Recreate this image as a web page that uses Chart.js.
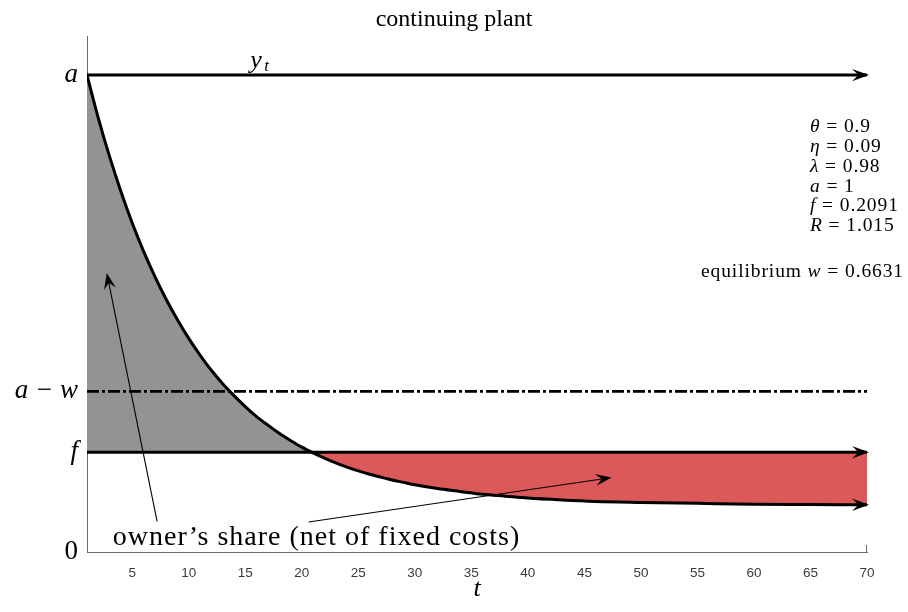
<!DOCTYPE html>
<html>
<head>
<meta charset="utf-8">
<script src="https://cdn.jsdelivr.net/npm/chart.js@4/dist/chart.umd.min.js"></script>
<style>
  html, body { margin: 0; padding: 0; background: #fff; }
</style>
</head>
<body>
<canvas id="plant" width="908" height="612"></canvas>
<script>
  // ====== Data ======
  const T_START = 1;
  const T_END = 70;
  const A = 1;
  const F = 0.2091;
  const A_MINUS_W = 0.3369;
  const Y_MAX = 1.082;

  // output per period y_t (flat at a), and the decaying revenue curve
  const yT = [A, A];
  const fLine = [F, F];
  const awLine = [A_MINUS_W, A_MINUS_W];
  const flatT = [T_START, T_END];

  const curveT = [1, 2, 3, 4, 5, 6, 7, 8, 9, 10, 11, 12, 13, 14, 15, 16, 17, 18, 19, 20,
                  21, 22, 23, 24, 25, 26, 27, 28, 29, 30, 32, 34, 36, 38, 40, 43, 46, 50,
                  55, 60, 65, 70];
  const curveY = [1.000, 0.910, 0.829, 0.756, 0.690, 0.631, 0.578, 0.530, 0.487, 0.448,
                  0.413, 0.381, 0.353, 0.328, 0.305, 0.284, 0.266, 0.249, 0.234, 0.220,
                  0.208, 0.197, 0.187, 0.178, 0.170, 0.163, 0.157, 0.151, 0.146, 0.141,
                  0.133, 0.127, 0.121, 0.117, 0.113, 0.109, 0.106, 0.104,
                  0.102, 0.100, 0.0995, 0.099];

  const xTicks = [5, 10, 15, 20, 25, 30, 35, 40, 45, 50, 55, 60, 65, 70];
  const yTickValues = [0, F, A_MINUS_W, A];
  const yTickLabels = ["0", "f", "a \u2212 w", "a"];

  const paramSymbols = ["\u03b8", "\u03b7", "\u03bb", "a", "f", "R"];
  const paramValues = ["0.9", "0.09", "0.98", "1", "0.2091", "1.015"];
  const eqWord = "equilibrium";
  const eqSymbol = "w";
  const eqValue = "0.6631";

  const titleText = "continuing plant";
  const noteText = "owner\u2019s share (net of fixed costs)";

  // ====== Styles ======
  const GREY_FILL = "rgb(145, 148, 145)";
  const RED_FILL = "rgb(220, 89, 89)";
  const AXIS_GREY = "#6a6a6a";
  const SERIF = '"Liberation Serif", "Times New Roman", serif';

  const pts = (xs, ys) => xs.map((x, i) => ({ x, y: ys[i] }));

  function arrowHead(ctx, x, y, ang, len, half) {
    ctx.save();
    ctx.translate(x, y);
    ctx.rotate(ang);
    ctx.beginPath();
    ctx.moveTo(0, 0);
    ctx.lineTo(-len, -half);
    ctx.lineTo(-len * 0.62, 0);
    ctx.lineTo(-len, half);
    ctx.closePath();
    ctx.fillStyle = "#000";
    ctx.fill();
    ctx.restore();
  }

  // annotation arrows, in data units: [tailT, tailY, tipT, tipY]
  const noteArrows = [
    [7.2, 0.064, 2.75, 0.585],
    [20.6, 0.063, 47.4, 0.156]
  ];

  const decorPlugin = {
    id: "decor",
    afterDatasetsDraw(chart) {
      const { ctx, chartArea } = chart;
      const xs = chart.scales.x;
      const ys = chart.scales.y;
      const px = (t) => xs.getPixelForValue(t);
      const py = (v) => ys.getPixelForValue(v);

      // arrow heads at the end of the flagged lines
      chart.data.datasets.forEach((ds, i) => {
        if (!ds.arrowEnd) return;
        const meta = chart.getDatasetMeta(i);
        const n = meta.data.length;
        const last = meta.data[n - 1];
        const prev = meta.data[n - 2];
        const ang = Math.atan2(last.y - prev.y, last.x - prev.x);
        arrowHead(ctx, last.x + 2, last.y, ang, 17, 6.2);
      });

      // annotation arrows
      ctx.save();
      ctx.strokeStyle = "#000";
      ctx.lineWidth = 1.1;
      noteArrows.forEach(([t0, v0, t1, v1]) => {
        const x0 = px(t0), y0 = py(v0), x1 = px(t1), y1 = py(v1);
        const ang = Math.atan2(y1 - y0, x1 - x0);
        ctx.beginPath();
        ctx.moveTo(x0, y0);
        ctx.lineTo(x1 - 8 * Math.cos(ang), y1 - 8 * Math.sin(ang));
        ctx.stroke();
        arrowHead(ctx, x1, y1, ang, 16, 6);
      });
      ctx.restore();

      // small end tick on the x axis
      ctx.save();
      ctx.strokeStyle = AXIS_GREY;
      ctx.lineWidth = 1;
      ctx.beginPath();
      ctx.moveTo(chartArea.right - 0.5, chartArea.bottom);
      ctx.lineTo(chartArea.right - 0.5, chartArea.bottom - 7);
      ctx.stroke();
      ctx.restore();

      ctx.save();
      ctx.fillStyle = "#000";
      ctx.textBaseline = "alphabetic";

      // y_t label
      ctx.font = "italic 26px " + SERIF;
      ctx.textAlign = "left";
      ctx.fillText("y", px(15.45), py(A) - 7);
      ctx.font = "italic 17px " + SERIF;
      ctx.fillText("t", px(15.45) + 14, py(A) - 4);

      // note under the curve
      ctx.font = "28px " + SERIF;
      ctx.letterSpacing = "1px";
      ctx.textAlign = "center";
      ctx.fillText(noteText, px(21.3), py(0.015));
      ctx.letterSpacing = "0px";

      // parameter block
      const romanFont = "19.5px " + SERIF;
      const italFont = "italic 19.5px " + SERIF;
      ctx.textAlign = "left";
      ctx.textBaseline = "middle";
      ctx.letterSpacing = "0.9px";
      const x0 = chartArea.right - 57;
      paramSymbols.forEach((s, i) => {
        const y = 127 + i * 19.8;
        ctx.font = italFont;
        ctx.fillText(s, x0, y);
        const w = ctx.measureText(s).width;
        ctx.font = romanFont;
        ctx.fillText(" = " + paramValues[i], x0 + w, y);
      });

      // equilibrium w, right aligned
      const partA = eqWord + " ";
      const partC = " = " + eqValue;
      ctx.font = romanFont;
      const wA = ctx.measureText(partA).width;
      const wC = ctx.measureText(partC).width;
      ctx.font = italFont;
      const wB = ctx.measureText(eqSymbol).width;
      const xr = 904 - (wA + wB + wC);
      const yEq = 272;
      ctx.font = romanFont;
      ctx.fillText(partA, xr, yEq);
      ctx.font = italFont;
      ctx.fillText(eqSymbol, xr + wA, yEq);
      ctx.font = romanFont;
      ctx.fillText(partC, xr + wA + wB, yEq);
      ctx.letterSpacing = "0px";
      ctx.restore();
    }
  };

  new Chart(document.getElementById("plant").getContext("2d"), {
    type: "line",
    data: {
      datasets: [
        {
          label: "revenue",
          data: pts(curveT, curveY),
          borderColor: "#000",
          borderWidth: 3,
          pointRadius: 0,
          cubicInterpolationMode: "monotone",
          fill: { target: 1, above: GREY_FILL, below: RED_FILL },
          arrowEnd: true
        },
        {
          label: "f",
          data: pts(flatT, fLine),
          borderColor: "#000",
          borderWidth: 3,
          pointRadius: 0,
          fill: false,
          arrowEnd: true
        },
        {
          label: "a - w",
          data: pts(flatT, awLine),
          borderColor: "#000",
          borderWidth: 2.6,
          borderDash: [12, 3, 3, 3],
          pointRadius: 0,
          fill: false
        },
        {
          label: "y_t",
          data: pts(flatT, yT),
          borderColor: "#000",
          borderWidth: 3,
          pointRadius: 0,
          fill: false,
          arrowEnd: true
        }
      ]
    },
    options: {
      responsive: false,
      animation: false,
      layout: { padding: 0 },
      plugins: {
        legend: { display: false },
        tooltip: { enabled: false },
        filler: { drawTime: "beforeDatasetsDraw" },
        title: {
          display: true,
          text: titleText,
          color: "#000",
          font: { family: SERIF, size: 24, weight: "normal" },
          padding: { top: 5, bottom: 2.2 }
        }
      },
      scales: {
        x: {
          type: "linear",
          min: T_START,
          max: T_END,
          afterBuildTicks: (s) => { s.ticks = xTicks.map((v) => ({ value: v })); },
          afterFit: (s) => { s.height = 60; },
          grid: { display: false, drawTicks: false },
          border: { display: true, color: AXIS_GREY, width: 1 },
          ticks: {
            color: "#3a3a3a",
            padding: 13,
            maxRotation: 0,
            font: { family: '"Liberation Sans", Arial, sans-serif', size: 13.5 }
          },
          title: {
            display: true,
            text: "t",
            color: "#000",
            font: { family: SERIF, size: 26, style: "italic" },
            padding: { top: 0, bottom: 7 }
          }
        },
        y: {
          type: "linear",
          min: 0,
          max: Y_MAX,
          afterBuildTicks: (s) => { s.ticks = yTickValues.map((v) => ({ value: v })); },
          afterFit: (s) => { s.width = 87; },
          grid: { display: false, drawTicks: false },
          border: { display: true, color: AXIS_GREY, width: 1 },
          ticks: {
            color: "#000",
            padding: 9,
            callback: (v) => yTickLabels[yTickValues.indexOf(v)],
            font: (ctx) => ({
              family: SERIF,
              size: 27,
              style: ctx.tick && ctx.tick.value === 0 ? "normal" : "italic"
            })
          }
        },
        // empty right-hand axis that only reserves the right margin
        yRight: {
          type: "linear",
          position: "right",
          min: 0,
          max: Y_MAX,
          afterFit: (s) => { s.width = 41; },
          grid: { display: false, drawTicks: false },
          border: { display: false },
          ticks: { display: false }
        }
      }
    },
    plugins: [decorPlugin]
  });
</script>
</body>
</html>
